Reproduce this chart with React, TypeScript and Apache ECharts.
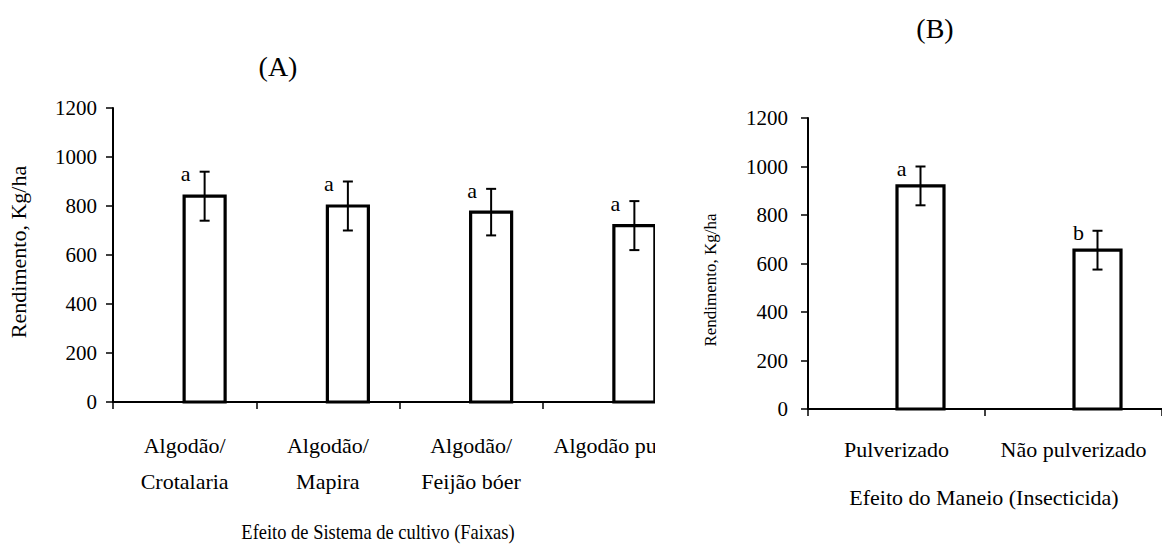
import React, { useEffect, useRef } from "react";
import * as echarts from "echarts";

const FONT = '"Liberation Serif", "Times New Roman", serif';

// Chart A — Efeito de Sistema de cultivo (Faixas)
const categoriesA = ["Algodão/\nCrotalaria", "Algodão/\nMapira", "Algodão/\nFeijão bóer", "Algodão puro"];
const valuesA = [840, 800, 775, 720];
const errorsA = [100, 100, 95, 100];
const lettersA = ["a", "a", "a", "a"];

// Chart B — Efeito do Maneio (Insecticida)
const categoriesB = ["Pulverizado", "Não pulverizado"];
const valuesB = [920, 655];
const errorsB = [80, 80];
const lettersB = ["a", "b"];

const yTicks = [0, 200, 400, 600, 800, 1000, 1200];

function makeRender(letters: string[], barW: number, offset: number) {
  return (params: any, api: any) => {
    const i = api.value(0);
    const v = api.value(1);
    const e = api.value(2);
    const base = api.coord([i, 0]);
    const top = api.coord([i, v]);
    const hi = api.coord([i, v + e]);
    const lo = api.coord([i, v - e]);
    const cx = base[0] + offset;
    const cap = 5;
    return {
      type: "group",
      children: [
        {
          type: "rect",
          shape: { x: cx - barW / 2, y: top[1], width: barW, height: base[1] - top[1] },
          style: { fill: "#fff", stroke: "#000", lineWidth: 3.2 },
        },
        { type: "line", shape: { x1: cx, y1: hi[1], x2: cx, y2: lo[1] }, style: { stroke: "#000", lineWidth: 2 } },
        { type: "line", shape: { x1: cx - cap, y1: hi[1], x2: cx + cap, y2: hi[1] }, style: { stroke: "#000", lineWidth: 2 } },
        { type: "line", shape: { x1: cx - cap, y1: lo[1], x2: cx + cap, y2: lo[1] }, style: { stroke: "#000", lineWidth: 2 } },
        {
          type: "text",
          x: cx - 19,
          y: hi[1] + 2,
          style: {
            text: letters[params.dataIndex],
            fontFamily: FONT,
            fontSize: 22,
            fill: "#000",
            align: "center",
            verticalAlign: "middle",
          },
        },
      ],
    };
  };
}

export default function App() {
  const ref = useRef<HTMLDivElement>(null);
  useEffect(() => {
    if (!ref.current) return;
    const chart = echarts.init(ref.current, null, { renderer: "svg" });
    const axisLine = { show: true, lineStyle: { color: "#000", width: 2 } };
    const yAxisCommon = (gridIndex: number, fontSize: number, margin: number) => ({
      type: "value",
      gridIndex,
      min: yTicks[0],
      max: yTicks[yTicks.length - 1],
      interval: 200,
      axisLine,
      axisTick: { show: true, length: 7, lineStyle: { color: "#000", width: 1.5 } },
      splitLine: { show: false },
      axisLabel: { color: "#000", fontFamily: FONT, fontSize, margin, formatter: (v: number) => String(v) },
    });
    chart.setOption({
      animation: false,
      backgroundColor: "#fff",
      grid: [
        { left: 113, top: 108, width: 573, height: 294 },
        { left: 808, top: 118, width: 360, height: 291 },
      ],
      xAxis: [
        {
          type: "category",
          gridIndex: 0,
          data: categoriesA,
          axisLine,
          axisTick: { show: true, length: 7, lineStyle: { color: "#000", width: 1.5 } },
          axisLabel: { interval: 0, color: "#000", fontFamily: FONT, fontSize: 22, lineHeight: 36, margin: 25 },
        },
        {
          type: "category",
          gridIndex: 1,
          data: categoriesB,
          axisLine,
          axisTick: { show: true, length: 7, lineStyle: { color: "#000", width: 1.5 } },
          axisLabel: { interval: 0, color: "#000", fontFamily: FONT, fontSize: 22, margin: 29 },
        },
      ],
      yAxis: [yAxisCommon(0, 21, 16), yAxisCommon(1, 21, 20)],
      series: [
        {
          type: "custom",
          xAxisIndex: 0,
          yAxisIndex: 0,
          encode: { x: 0, y: 1 },
          renderItem: makeRender(lettersA, 41, 20),
          data: valuesA.map((v, i) => [i, v, errorsA[i]]),
        },
        {
          type: "custom",
          xAxisIndex: 1,
          yAxisIndex: 1,
          encode: { x: 0, y: 1 },
          renderItem: makeRender(lettersB, 47, 24),
          data: valuesB.map((v, i) => [i, v, errorsB[i]]),
        },
      ],
      graphic: [
        {
          type: "rect",
          z: 100,
          shape: { x: 655, y: 90, width: 42, height: 457 },
          style: { fill: "#fff" },
        },
        {
          type: "text",
          z: 101,
          x: 278,
          y: 66,
          style: { text: "(A)", fontFamily: FONT, fontSize: 28, fill: "#000", align: "center", verticalAlign: "middle" },
        },
        {
          type: "text",
          z: 101,
          x: 935,
          y: 28,
          style: { text: "(B)", fontFamily: FONT, fontSize: 28, fill: "#000", align: "center", verticalAlign: "middle" },
        },
        {
          type: "text",
          z: 101,
          x: 18,
          y: 252,
          rotation: Math.PI / 2,
          style: { text: "Rendimento, Kg/ha", fontFamily: FONT, fontSize: 22, fill: "#000", align: "center", verticalAlign: "middle" },
        },
        {
          type: "text",
          z: 101,
          x: 710,
          y: 280,
          rotation: Math.PI / 2,
          style: { text: "Rendimento, Kg/ha", fontFamily: FONT, fontSize: 17, fill: "#000", align: "center", verticalAlign: "middle" },
        },
        {
          type: "text",
          z: 101,
          x: 378,
          y: 531,
          scaleX: 0.84,
          style: { text: "Efeito de Sistema de cultivo (Faixas)", fontFamily: FONT, fontSize: 22, fill: "#000", align: "center", verticalAlign: "middle" },
        },
        {
          type: "text",
          z: 101,
          x: 984,
          y: 497,
          style: { text: "Efeito do Maneio (Insecticida)", fontFamily: FONT, fontSize: 22, fill: "#000", align: "center", verticalAlign: "middle" },
        },
      ],
    });
    return () => chart.dispose();
  }, []);
  return (
    <div
      ref={ref}
      style={{ position: "fixed", left: 0, top: 0, width: 1162, height: 547, background: "#fff" }}
    />
  );
}
